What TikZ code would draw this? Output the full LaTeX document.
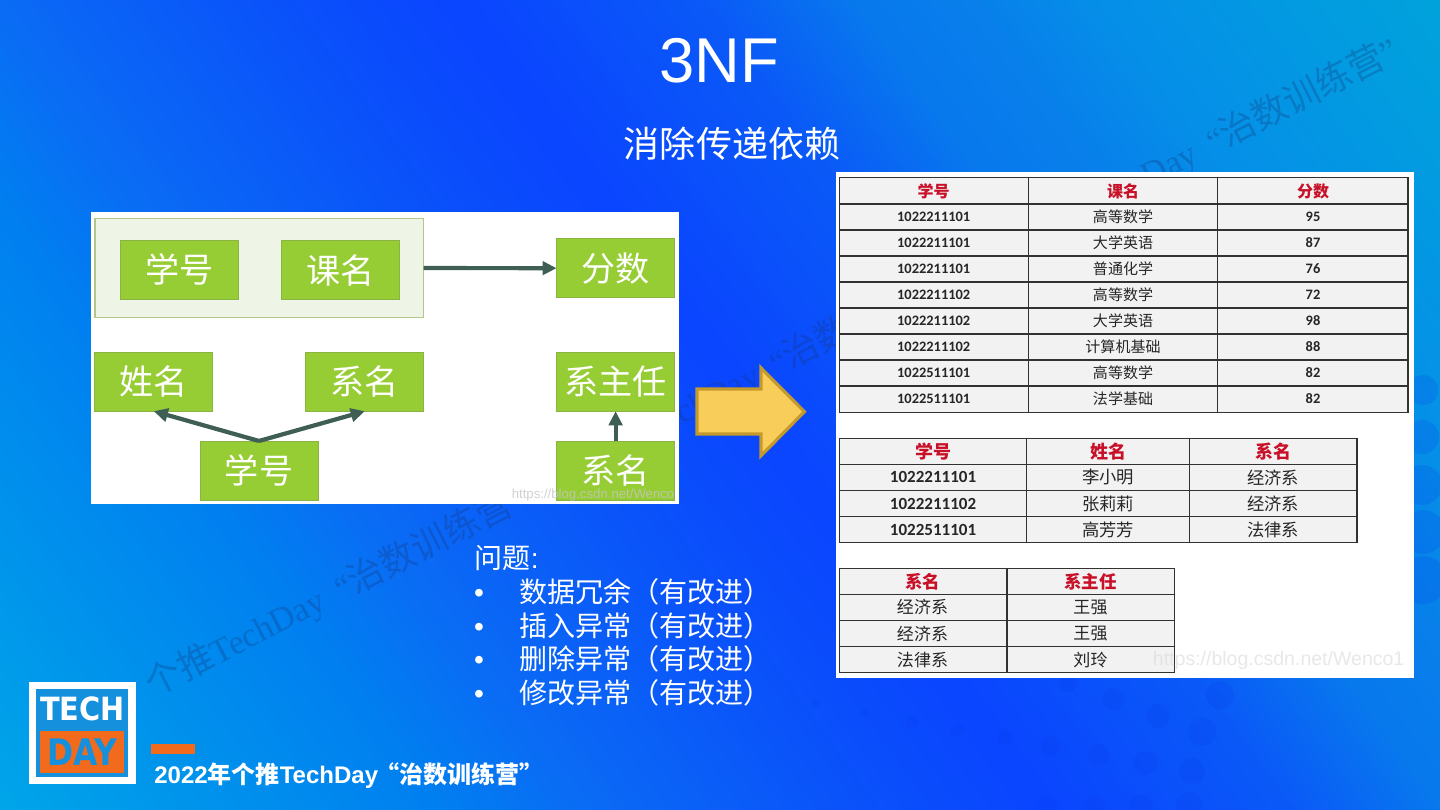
\documentclass[tikz,border=0pt]{standalone}
\usepackage{graphicx}
\usepackage{fontspec}
\usepackage{xcolor}
\usepackage{tikz}
\usetikzlibrary{arrows.meta}
\setmainfont{Noto Sans CJK SC}
\newfontfamily\arialfont{Liberation Sans}
\newfontfamily\markfont{Liberation Serif}
\newfontfamily\numfont{Carlito}
\newfontfamily\logofont{DejaVu Sans}
\definecolor{AzulPunto}{RGB}{5,60,235}
\definecolor{VerdeCaja}{RGB}{151,205,52}
\definecolor{VerdeBorde}{RGB}{138,179,68}
\definecolor{VerdePanel}{RGB}{238,244,230}
\definecolor{BordePanel}{RGB}{181,196,143}
\definecolor{GrisFlecha}{RGB}{63,95,85}
\definecolor{OroFlecha}{RGB}{249,205,90}
\definecolor{OroBorde}{RGB}{196,154,44}
\definecolor{NaranjaLogo}{RGB}{242,106,27}
\definecolor{AzulLogo}{RGB}{21,144,220}
\definecolor{GrisCelda}{RGB}{242,242,242}
\definecolor{LineaTabla}{RGB}{50,50,50}
\definecolor{RojoTabla}{RGB}{200,16,40}
\definecolor{MarcaAgua}{RGB}{20,55,125}
\pgfdeclarehorizontalshading{FondoAzul}{100bp}{
  rgb(0bp)=(0,.68,.92); rgb(28.85bp)=(0,.65,.91); rgb(37.7bp)=(0,.5,.94);
  rgb(40.8bp)=(.04,.42,.96); rgb(46.25bp)=(.04,.32,.98); rgb(50bp)=(.04,.27,1);
  rgb(55bp)=(.04,.35,.97); rgb(58bp)=(.03,.47,.93); rgb(60.5bp)=(.03,.5,.92);
  rgb(63bp)=(.02,.56,.91); rgb(70bp)=(0,.64,.86); rgb(100bp)=(0,.68,.85)}

\begin{document}
\begin{tikzpicture}[x=0.01cm,y=-0.01cm,>={Triangle[length=4pt,width=3.8pt]},
    caja/.style={draw=VerdeBorde,line width=0.25pt,fill=VerdeCaja,text=white,inner sep=0pt,outer sep=0pt,
      minimum width=1.18cm,minimum height=0.59cm,font=\fontsize{9.7pt}{11pt}\selectfont},
    enlace/.style={->,GrisFlecha,line width=1.2pt},
    celda/.style={inner sep=0pt,text=black!85},
    rojo/.style={inner sep=0pt,text=RojoTabla,font=\bfseries\fontsize{#1}{6pt}\selectfont},
    marca/.style={anchor=base west,rotate=27,text=MarcaAgua,opacity=.3,inner sep=0pt,font=\fontsize{10.2pt}{12pt}\selectfont},
    lista/.style={anchor=base west,text=white,inner sep=0pt,font=\fontsize{7.97pt}{10pt}\selectfont},
    tablero/.style={draw=LineaTabla,line width=.4pt,fill=GrisCelda},
    rejilla/.style={draw=LineaTabla,line width=.4pt}]
  \useasboundingbox (0,0) rectangle (1440,810);

  % Fondo con los puntos
  \begin{scope}
    \clip (0,0) rectangle (1440,810);
    \shade[shading=FondoAzul,shading angle=36] (-250,-595) rectangle (1750,1405);
    \foreach \cx/\cy/\cr in {816/703/4,864/713/5,912/722/6,957/730/7,1005/737/8,1051/746/10,1098/755/11,1145/763/12,1192/771/13,
        1068/683/9,1113/699/11,1158/716/12,1202/732/14,1220/695/14,1046/805/10,1094/807/11,1141/807/12,1189/805/13,
        1423/390/15,1422/437/17,1422/485/20,1423/532/22,1423/580/24}
      \fill[AzulPunto,opacity=.18] (\cx,\cy) circle[radius=\cr];
  \end{scope}

  % Marca de agua
  \foreach \mx/\my [count=\m] in {153/698,588/473,1025/251}
    \node[marca] (marca\m) at (\mx,\my) {个推{\markfont\fontsize{9.8pt}{12pt}\selectfont TechDay\hspace{4.5pt}“}治数训练营{\markfont ”}};

  % Titulos
  \node[anchor=base,text=white,inner sep=0pt,font=\arialfont\fontsize{18pt}{20pt}\selectfont] (titulo) at (719,83) {3NF};
  \node[anchor=base,text=white,inner sep=0pt,font=\fontsize{10.24pt}{12pt}\selectfont] (subtitulo) at (732,158) {消除传递依赖};

  % Imagen izquierda
  \fill[white] (91,212) rectangle (679,504);
  \node[draw=BordePanel,line width=.4pt,fill=VerdePanel,minimum width=3.285cm,minimum height=0.994cm,inner sep=0pt,outer sep=0pt] (panel) at (259.3,268) {};
  \node[caja] (xuehaoA) at (179.8,269.5) {学号};
  \node[caja] (kecheng) at (340.2,270.2) {课名};
  \node[caja] (fenshu) at (615.6,268.2) {分数};
  \node[caja] (xingming) at (153.8,381.7) {姓名};
  \node[caja] (ximingA) at (364.8,381.7) {系名};
  \node[caja] (zhuren) at (615.6,381.7) {系主任};
  \node[caja] (xuehaoB) at (259,470.5) {学号};
  \node[caja] (ximingB) at (615.6,470.5) {系名};
  \draw[enlace] (panel) -- (fenshu);
  \draw[enlace] (xuehaoB.north) -- (xingming.south);
  \draw[enlace] (xuehaoB.north) -- (ximingA.south);
  \draw[enlace] (ximingB.north) -- (zhuren.south);
  \node[anchor=east,inner sep=0pt,text=gray!45,opacity=.8,font=\arialfont\fontsize{3.75pt}{4pt}\selectfont] (urlA) at (675,495) {https://blog.csdn.net/Wenco};

  % Flecha
  \draw[draw=OroBorde,line width=.9pt,fill=OroFlecha] (697,389) -- (761,389) -- (761,368) -- (804.4,411.7) -- (761,455.7) -- (761,434) -- (697,434) -- cycle;

  % Imagen derecha
  \fill[white] (836,172) rectangle (1414,677.7);

  % Tabla de notas
  \draw[tablero] (839.2,177.7) rectangle (1407.9,412.3);
  \foreach \cx in {1028.2,1217.7} \draw[rejilla] (\cx,177.7) -- (\cx,412.3);
  \foreach \r in {1,...,8} \draw[rejilla] (839.2,{178+26*\r}) -- (1407.9,{178+26*\r});
  \foreach \t/\cx in {学号/933.7,课名/1123,分数/1313} \node[rojo=4.55pt] (notas-\t) at (\cx,191) {\t};
  \foreach \a/\b/\c [count=\r] in {1022211101/高等数学/95,1022211101/大学英语/87,1022211101/普通化学/76,1022211102/高等数学/72,
      1022211102/大学英语/98,1022211102/计算机基础/88,1022511101/高等数学/82,1022511101/法学基础/82}{
    \node[celda,font=\numfont\bfseries\fontsize{4.1pt}{5pt}\selectfont] (notas-\r-a) at (933.7,{191+26*\r}) {\a};
    \node[celda,font=\fontsize{4.27pt}{5pt}\selectfont] (notas-\r-b) at (1123,{191+26*\r}) {\b};
    \node[celda,font=\numfont\bfseries\fontsize{4.1pt}{5pt}\selectfont] (notas-\r-c) at (1313,{191+26*\r}) {\c};
  }

  % Tabla de alumnos
  \draw[tablero] (839.2,438.3) rectangle (1357,542.7);
  \foreach \cx in {1026.7,1189.7} \draw[rejilla] (\cx,438.3) -- (\cx,542.7);
  \foreach \r in {1,2,3} \draw[rejilla] (839.2,{438.3+26.1*\r}) -- (1357,{438.3+26.1*\r});
  \foreach \t/\cx in {学号/933,姓名/1108,系名/1273.3} \node[rojo=5.12pt] (alumno-\t) at (\cx,451.3) {\t};
  \foreach \a/\b/\c [count=\r] in {1022211101/李小明/经济系,1022211102/张莉莉/经济系,1022511101/高芳芳/法律系}{
    \node[celda,font=\numfont\bfseries\fontsize{4.84pt}{6pt}\selectfont] (alumno-\r-a) at (933,{451.3+26.1*\r}) {\a};
    \node[celda,font=\fontsize{4.92pt}{6pt}\selectfont] (alumno-\r-b) at (1108,{451.3+26.1*\r}) {\b};
    \node[celda,font=\fontsize{4.92pt}{6pt}\selectfont] (alumno-\r-c) at (1273.3,{451.3+26.1*\r}) {\c};
  }

  % Tabla de departamentos
  \draw[tablero] (839.2,568.3) rectangle (1174.4,672.7);
  \draw[rejilla] (1006.8,568.3) -- (1006.8,672.7);
  \foreach \r in {1,2,3} \draw[rejilla] (839.2,{568.3+26.1*\r}) -- (1174.4,{568.3+26.1*\r});
  \foreach \t/\cx in {系名/922.5,系主任/1090.5} \node[rojo=4.98pt] (depto-\t) at (\cx,581.3) {\t};
  \foreach \a/\b [count=\r] in {经济系/王强,经济系/王强,法律系/刘玲}{
    \node[celda,font=\fontsize{4.84pt}{6pt}\selectfont] (depto-\r-a) at (922.5,{581.3+26.1*\r}) {\a};
    \node[celda,font=\fontsize{4.84pt}{6pt}\selectfont] (depto-\r-b) at (1090.5,{581.3+26.1*\r}) {\b};
  }
  \node[anchor=east,inner sep=0pt,text=gray!30,opacity=.6,font=\arialfont\fontsize{5.55pt}{7pt}\selectfont] (urlB) at (1405,660) {https://blog.csdn.net/Wenco1};

  % Lista de problemas
  \node[lista] (problema) at (474,568) {问题{\arialfont :}};
  \foreach \t/\ly [count=\i] in {数据冗余/602,插入异常/636,删除异常/669,修改异常/703}{
    \node[lista,font=\arialfont\fontsize{8pt}{9pt}\selectfont] (punto\i) at (473.5,\ly) {•};
    \node[lista] (item\i) at (519,\ly) {\t（有改进）};
  }

  % Logo
  \fill[white] (28.6,681.7) rectangle (135.7,784);
  \fill[AzulLogo] (36.4,689) rectangle (127.9,776.7);
  \node[inner sep=0pt,text=white,font=\logofont\bfseries\fontsize{9.1pt}{10pt}\selectfont] (tech) at (82.5,709) {\scalebox{.9}[1]{TECH}};
  \node[fill=NaranjaLogo,inner sep=0pt,outer sep=0pt,minimum width=.843cm,minimum height=.42cm] (dayfondo) at (82.2,751.7) {};
  \node[inner sep=0pt,text=AzulLogo,font=\logofont\bfseries\fontsize{10.4pt}{11pt}\selectfont] (day) at (dayfondo) {\scalebox{.86}[1]{DAY}};

  % Pie
  \fill[NaranjaLogo] (151.4,744) rectangle (195.4,754.3);
  \node[anchor=base west,inner sep=0pt,text=white,font=\bfseries\fontsize{6.83pt}{8pt}\selectfont] (pie) at (153.6,783)
    {{\arialfont\bfseries 2022}年个推{\arialfont\bfseries TechDay}\hspace{-.8pt}“治数训练营”};
\end{tikzpicture}
\end{document}
